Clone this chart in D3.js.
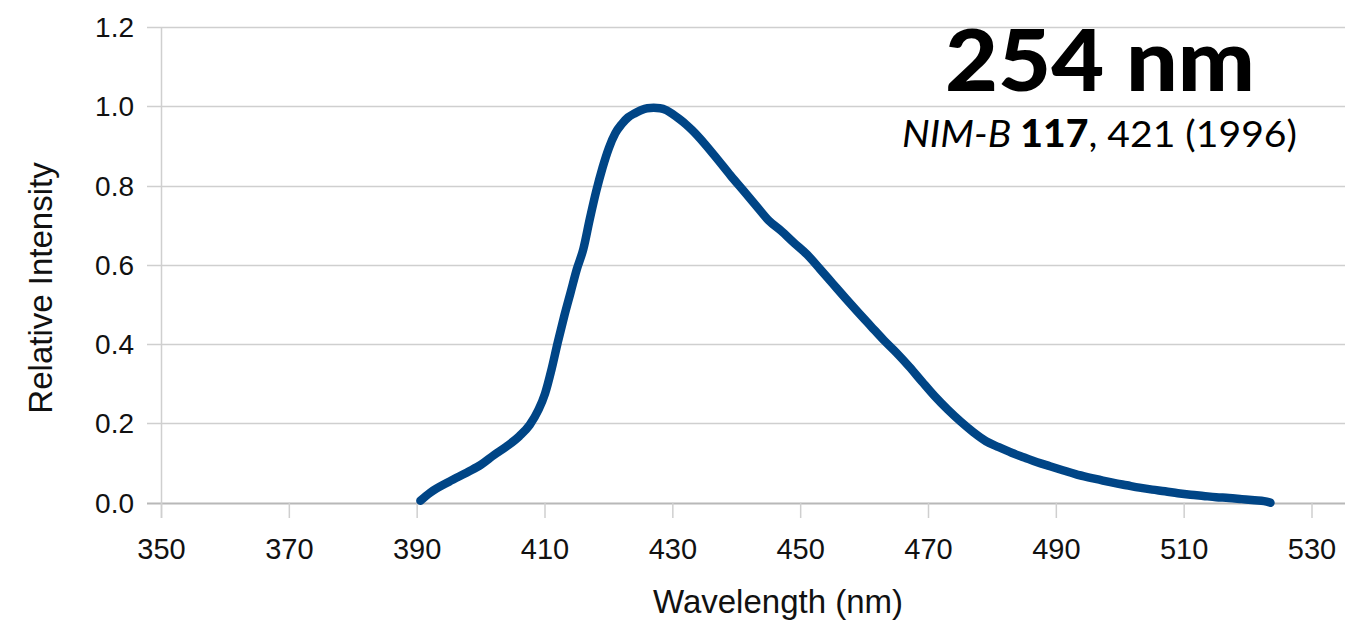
<!DOCTYPE html>
<html><head><meta charset="utf-8">
<script src="https://cdn.jsdelivr.net/npm/d3@7"></script>
<style>
html,body{margin:0;padding:0;background:#fff;}
svg{display:block;}
</style></head>
<body>
<svg id="chart" width="1345" height="623"></svg>
<script>
const wavelength = [390.5,392,395,398,400,402,404,406,407.6,409,410,411,412,413,414,415,416,417,418,419,420,421,422,423,424,425,426,427,428,429,430,431,432,433,435,437,439,441,443,445,447,449,451,453,455,457,459,461,463,465,467,469,471,473,475,477,479,481,483,485,487,489,491,493,495,497,499,501,503,505,507,509,511,513,515,517,519,521,522.5,523.5];
const intensity = [0.005,0.025,0.053,0.078,0.096,0.12,0.142,0.168,0.196,0.235,0.275,0.335,0.405,0.47,0.53,0.59,0.64,0.715,0.785,0.845,0.895,0.932,0.955,0.972,0.982,0.99,0.995,0.996,0.995,0.99,0.98,0.968,0.955,0.94,0.905,0.866,0.826,0.788,0.75,0.712,0.685,0.655,0.626,0.59,0.553,0.516,0.48,0.445,0.41,0.378,0.343,0.305,0.268,0.235,0.205,0.178,0.155,0.14,0.126,0.114,0.102,0.092,0.082,0.072,0.064,0.057,0.05,0.044,0.038,0.033,0.029,0.024,0.02,0.017,0.014,0.012,0.009,0.006,0.004,0.0];
const xTicks = [350,370,390,410,430,450,470,490,510,530];
const yTicks = [0,0.2,0.4,0.6,0.8,1.0,1.2];
const xTitle = "Wavelength (nm)";
const yTitle = "Relative Intensity";
const titleText = "254 nm";

const svg = d3.select("#chart");
const x = d3.scaleLinear().domain([350,530]).range([161.5,1312]);
const y = d3.scaleLinear().domain([0,1.2]).range([502.7,27]);

const gridColor = "#cfcfcf";
svg.append("g").selectAll("line").data(yTicks).join("line")
  .attr("x1",147).attr("x2",1345)
  .attr("y1",d=>Math.round(y(d))+0.5).attr("y2",d=>Math.round(y(d))+0.5)
  .attr("stroke",d=>d===0?"#b8b8b8":gridColor).attr("stroke-width",d=>d===0?2:1.3);
svg.append("line").attr("x1",161.5).attr("x2",161.5).attr("y1",27).attr("y2",518)
  .attr("stroke",gridColor).attr("stroke-width",1.5);
svg.append("g").selectAll("line").data(xTicks).join("line")
  .attr("x1",d=>x(d)).attr("x2",d=>x(d)).attr("y1",y(0)).attr("y2",518)
  .attr("stroke",gridColor).attr("stroke-width",1.5);

svg.append("g").selectAll("text").data(yTicks).join("text")
  .attr("x",134).attr("y",d=>y(d)).attr("dy","0.36em")
  .attr("text-anchor","end").attr("font-family","'Liberation Sans',Arial,sans-serif")
  .attr("font-size",28).attr("fill","#111").text(d=>d.toFixed(1));
svg.append("g").selectAll("text").data(xTicks).join("text")
  .attr("x",d=>x(d)).attr("y",559)
  .attr("text-anchor","middle").attr("font-family","'Liberation Sans',Arial,sans-serif")
  .attr("font-size",29).attr("fill","#111").text(d=>d);

svg.append("text").attr("x",778).attr("y",613).attr("text-anchor","middle")
  .attr("font-family","'Liberation Sans',Arial,sans-serif").attr("font-size",33).attr("fill","#111").text(xTitle);
svg.append("text").attr("transform","translate(52,288) rotate(-90)").attr("text-anchor","middle")
  .attr("font-family","'Liberation Sans',Arial,sans-serif").attr("font-size",33).attr("fill","#111").text(yTitle);

const pts = wavelength.map((w,i)=>[w,intensity[i]]);
svg.append("path").datum(pts)
  .attr("fill","none").attr("stroke","#004586").attr("stroke-width",8.5)
  .attr("stroke-linejoin","round").attr("stroke-linecap","round")
  .attr("d", d3.line().x(d=>x(d[0])).y(d=>y(d[1])).curve(d3.curveMonotoneX));

svg.append("text").attr("x",945).attr("y",91)
  .attr("font-family","Lato,'Open Sans',sans-serif").attr("font-weight",900)
  .attr("font-size",86).attr("fill","#000")
  .attr("textLength",310).attr("lengthAdjust","spacingAndGlyphs").text(titleText);
const sub = svg.append("text").attr("x",902).attr("y",147)
  .attr("font-family","Lato,'Open Sans',sans-serif").attr("font-size",37).attr("fill","#000")
  .attr("textLength",395).attr("lengthAdjust","spacingAndGlyphs");
sub.append("tspan").attr("font-style","italic").text("NIM-B ");
sub.append("tspan").attr("font-weight",900).text("117");
sub.append("tspan").text(", 421 (1996)");
</script>
</body></html>
